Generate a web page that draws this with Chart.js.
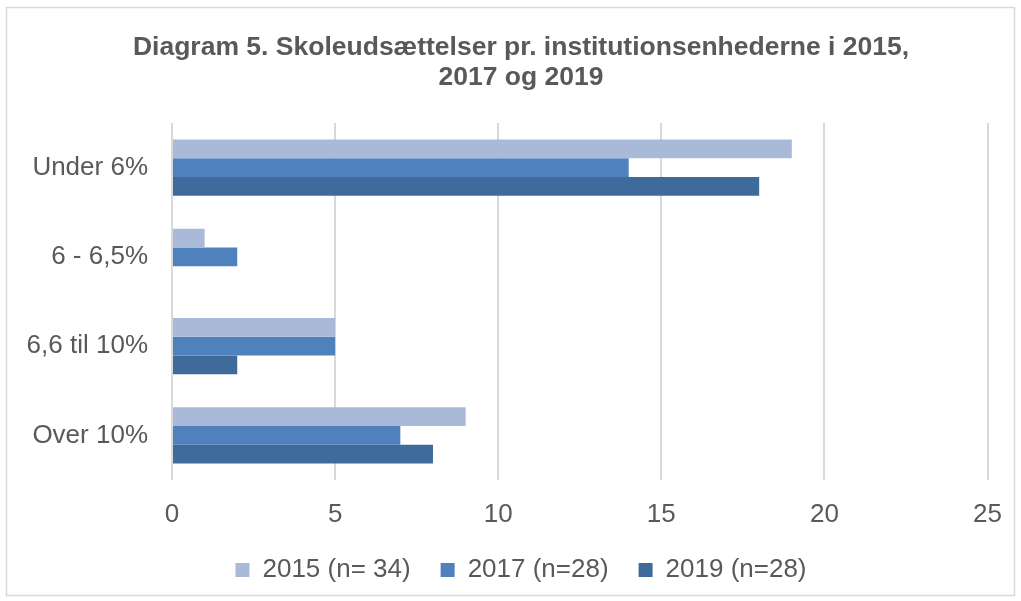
<!DOCTYPE html>
<html>
<head>
<meta charset="utf-8">
<script src="https://cdn.jsdelivr.net/npm/chart.js@4/dist/chart.umd.min.js"></script>
<style>
  html, body { margin: 0; padding: 0; background: #fff; }
  #wrap { width: 1021px; height: 601px; position: relative; }
</style>
</head>
<body>
<div id="wrap"><canvas id="grafico" width="1021" height="601"></canvas></div>
<script>
const kategorier = ["Under 6%", "6 - 6,5%", "6,6 til 10%", "Over 10%"]
const serieNavne = ["2015 (n= 34)", "2017 (n=28)", "2019 (n=28)"]
const vaerdier2015 = [19, 1, 5, 9]
const vaerdier2017 = [14, 2, 5, 7]
const vaerdier2019 = [18, 0, 2, 8]
const farver = ["#A9B9D8", "#4F81BD", "#3F6A9C"]

const ramme = {
  id: "ramme",
  beforeDraw(chart) {
    const ctx = chart.ctx
    ctx.save()
    ctx.fillStyle = "#fff"
    ctx.fillRect(0, 0, chart.width, chart.height)
    ctx.strokeStyle = "#D9D9D9"
    ctx.lineWidth = 1.5
    ctx.strokeRect(6.5, 7.5, 1008, 588)
    ctx.restore()
  }
}

// titel og forklaring centreres på hele figuren, ikke kun til venstre for plottet
const centrer = {
  id: "centrer",
  afterLayout(chart) {
    const skub = 23
    if (chart.titleBlock) {
      chart.titleBlock.left += skub
      chart.titleBlock.right += skub
    }
    if (chart.legend) {
      chart.legend.left += skub
      chart.legend.right += skub
    }
  }
}

const lav = (label, data, farve) => ({
  label: label,
  data: data,
  backgroundColor: farve,
  borderWidth: 0,
  categoryPercentage: 0.63,
  barPercentage: 1.0,
})

new Chart(document.getElementById("grafico"), {
  type: "bar",
  data: {
    labels: kategorier,
    datasets: [
      lav(serieNavne[0], vaerdier2015, farver[0]),
      lav(serieNavne[1], vaerdier2017, farver[1]),
      lav(serieNavne[2], vaerdier2019, farver[2]),
    ],
  },
  plugins: [ramme, centrer],
  options: {
    indexAxis: "y",
    responsive: false,
    animation: false,
    devicePixelRatio: 1,
    layout: { padding: { top: 10, left: 6, right: 31, bottom: 8 } },
    scales: {
      x: {
        min: 0,
        max: 25,
        ticks: {
          stepSize: 5,
          color: "#595959",
          font: { family: "Liberation Sans, Arial", size: 26 },
          padding: 19,
        },
        grid: { color: "#D9D9D9", lineWidth: 2, drawTicks: false },
        border: { display: false },
        afterFit: (scale) => { scale.height = 47 },
      },
      y: {
        ticks: {
          color: "#595959",
          font: { family: "Liberation Sans, Arial", size: 26 },
          padding: 24,
        },
        grid: { display: false, drawTicks: false },
        border: { display: false },
        afterFit: (scale) => { scale.width = 166 },
      },
    },
    plugins: {
      title: {
        display: true,
        text: ["Diagram 5. Skoleudsættelser pr. institutionsenhederne i 2015,", "2017 og 2019"],
        color: "#595959",
        font: { family: "Liberation Sans, Arial", size: 26.5, weight: "bold", lineHeight: 1.15 },
        padding: { top: 22, bottom: 30 },
      },
      legend: {
        position: "bottom",
        labels: {
          color: "#595959",
          font: { family: "Liberation Sans, Arial", size: 26 },
          boxWidth: 14,
          boxHeight: 14,
          padding: 30,
        },
      },
      tooltip: { enabled: false },
    },
  },
})
</script>
</body>
</html>
